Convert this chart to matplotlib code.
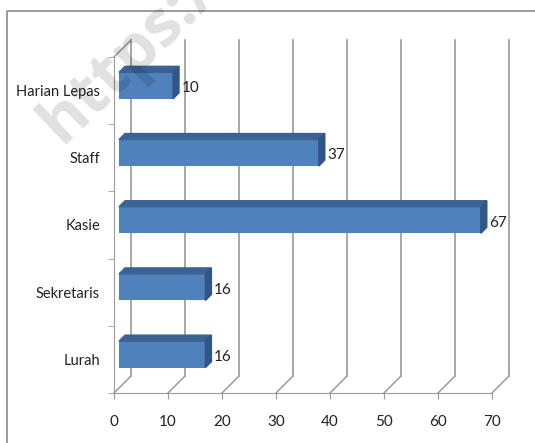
import matplotlib
matplotlib.use("Agg")
import matplotlib.pyplot as plt
from matplotlib.patches import Polygon
from matplotlib.transforms import ScaledTranslation

categories = ["Lurah", "Sekretaris", "Kasie", "Staff", "Harian Lepas"]
values = [16, 16, 67, 37, 10]
x_ticks = [0, 10, 20, 30, 40, 50, 60, 70]

W, H = 535, 443
plt.rcParams["font.family"] = ["Lato", "DejaVu Sans"]
fig = plt.figure(figsize=(W / 100, H / 100), dpi=100)

# frame around the chart
fig.add_artist(plt.Line2D([7 / W, 7 / W, 1], [0, 1 - 11 / H, 1 - 11 / H], color="#8c8c8c", lw=1.2))

# front plane of the 3d box: 114..492 px wide, 57..393 px down
ax = fig.add_axes([114 / W, 1 - 393 / H, 378 / W, 336 / H])
ax.set_xlim(0, 70)
ax.set_ylim(-0.5, 4.5)
ax.patch.set_alpha(0)
for s in ["top", "right"]:
    ax.spines[s].set_visible(False)
for s in ["left", "bottom"]:
    ax.spines[s].set_color("#9a9a9a")

ax.set_xticks(x_ticks)
ax.set_yticks([i - 0.5 for i in range(6)], minor=True)
ax.set_yticks(range(len(categories)))
ax.set_yticklabels(categories, fontsize=10.5, color="#222222")
ax.tick_params(axis="y", which="major", length=0, pad=10)
ax.tick_params(axis="y", which="minor", length=4, color="#9a9a9a")
ax.tick_params(axis="x", length=4.5, color="#9a9a9a", labelsize=11, labelcolor="#222222", pad=11)

def shifted(px, py):
    return ax.transData + ScaledTranslation(px / 100, py / 100, fig.dpi_scale_trans)

# back wall grid, floor lines
wall = shifted(17, 17)
for x in x_ticks:
    ax.plot([x, x], [-0.5, 4.5], transform=wall, color="#8f8f8f", lw=1.1, clip_on=False, zorder=1)
    ax.plot([x, x + 17 / 5.4], [-0.5, -0.5 + 17 / 67.2], color="#9a9a9a", lw=1.1, clip_on=False, zorder=1)
ax.plot([0, 17 / 5.4], [4.5, 4.5 + 17 / 67.2], color="#9a9a9a", lw=1.1, clip_on=False, zorder=1)

# bars, front face sits 5 px in, depth is 6 px more
front = shifted(5, 5)
h = 0.395
dx, dy = 6 / 5.4, 6 / 67.2
for i, v in enumerate(values):
    ax.barh(i, v, height=h, color="#4f81bd", transform=front, zorder=3, clip_on=False)
    ax.add_patch(Polygon([(0, i + h / 2), (dx, i + h / 2 + dy), (v + dx, i + h / 2 + dy), (v, i + h / 2)],
                         closed=True, color="#3a6292", transform=front, zorder=3, clip_on=False))
    ax.add_patch(Polygon([(v, i - h / 2), (v + dx, i - h / 2 + dy), (v + dx, i + h / 2 + dy), (v, i + h / 2)],
                         closed=True, color="#2f5687", transform=front, zorder=3, clip_on=False))
    ax.text(v + 1.6, i - 0.04, str(v), transform=front, fontsize=11, color="#222222", va="center", zorder=4)

# watermark, cut by the top of the picture, darkens what lies under it
fig.text(62 / W, 1 - 144 / H, "https:/", fontsize=47, fontweight="bold", family="Open Sans", color="black",
         alpha=0.12, rotation=44, ha="left", va="baseline", rotation_mode="anchor", zorder=5)

fig.savefig("out.png", dpi=100)
